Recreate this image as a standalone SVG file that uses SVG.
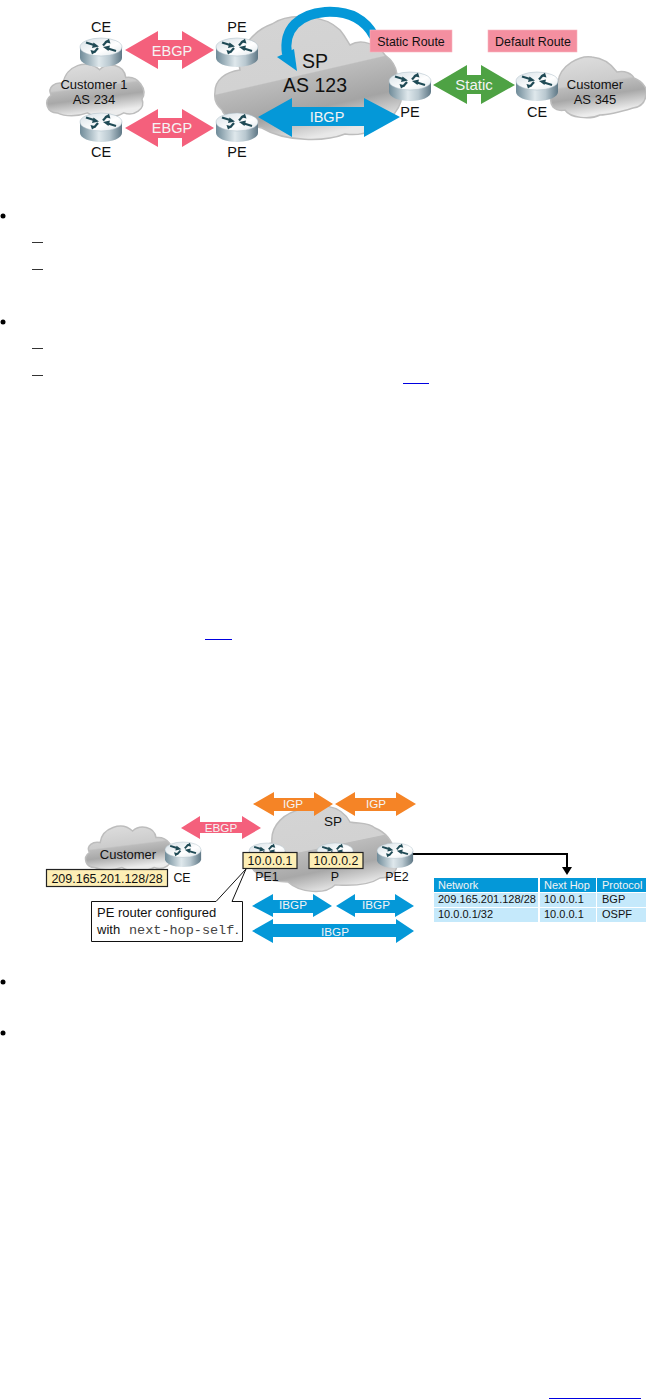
<svg xmlns="http://www.w3.org/2000/svg" xmlns:xlink="http://www.w3.org/1999/xlink" width="646" height="1399" viewBox="0 0 646 1399">
<style>
text{font-family:"Liberation Sans",Arial,sans-serif;fill:#111}
.m{text-anchor:middle}
.w{fill:#f4f4f4}
.c13{font-size:13px}.c14{font-size:14.5px}.c12{font-size:12.4px}.c11{font-size:11.7px}.t{font-size:11px}
.mono{font-family:"Liberation Mono",monospace;fill:#444}
.red{fill:#f4607c}.blue{fill:#0498d8}.green{fill:#4ea244}.orange{fill:#f58426}
.lab{fill:#f48fa0;stroke:#f7b5c0;stroke-width:.6}
.yel{fill:#fdeeb5;stroke:#222;stroke-width:1.2}
.cl{stroke:#bdbdbd;stroke-width:1.5;vector-effect:non-scaling-stroke}
.th{fill:#0498d8}.td{fill:#c5e9fb}
.dash{stroke:#333;stroke-width:1}.ul{stroke:#0000e0;stroke-width:1}
</style>
<defs>
<linearGradient id="cg" x1=".4" y1=".05" x2=".6" y2=".9">
<stop offset="0" stop-color="#dadada"/><stop offset=".42" stop-color="#cccccc"/><stop offset=".46" stop-color="#bbbbbb"/><stop offset=".68" stop-color="#a8a8a8"/><stop offset="1" stop-color="#ececec"/>
</linearGradient>
<linearGradient id="sp1" gradientUnits="userSpaceOnUse" x1="286" y1="15" x2="314" y2="137">
<stop offset="0" stop-color="#d4d4d4"/><stop offset=".49" stop-color="#d2d2d2"/><stop offset=".5" stop-color="#bcbcbc"/><stop offset=".78" stop-color="#a4a4a4"/><stop offset="1" stop-color="#e8e8e8"/>
</linearGradient>
<linearGradient id="sp2" gradientUnits="userSpaceOnUse" x1="321" y1="803" x2="339" y2="890">
<stop offset="0" stop-color="#d4d4d4"/><stop offset=".49" stop-color="#d2d2d2"/><stop offset=".5" stop-color="#bcbcbc"/><stop offset=".75" stop-color="#a8a8a8"/><stop offset="1" stop-color="#ececec"/>
</linearGradient>
<linearGradient id="rs" x1="0" x2="1" y1="0" y2="0">
<stop offset="0" stop-color="#6f8b99"/><stop offset=".45" stop-color="#dfe8ec"/><stop offset=".7" stop-color="#b9c8d0"/><stop offset="1" stop-color="#5f7886"/>
</linearGradient>
<linearGradient id="rt" x1="0" x2="1" y1="0" y2="1">
<stop offset="0" stop-color="#d6e0e6"/><stop offset=".6" stop-color="#ffffff"/><stop offset="1" stop-color="#dfe7eb"/>
</linearGradient>
<path id="cloud" d="M12,56C2,56-2,44 6,38C2,30 10,24 18,26C20,8 42,0 54,12C62,4 78,6 80,20C92,18 102,32 96,42C100,52 88,60 78,56C68,62 50,62 42,56C32,60 20,60 12,56Z" fill="url(#cg)" class="cl"/>
<g id="router">
<path d="M0,9V20C0,25 9.400,29 21,29S42,25 42,20V9Z" fill="url(#rs)"/>
<ellipse cx="21" cy="9" rx="21" ry="9" fill="url(#rt)" stroke="#a9bac4" stroke-width=".5"/>
<g fill="none" stroke="#1f4a55" stroke-width="2.200">
<path d="M6,4.500L14,7"/><path d="M36,13L28,10.500"/><path d="M23,7.500L27,3"/><path d="M18,10L14,14.500"/>
</g>
<g fill="#1f4a55">
<path d="M19,8.500L12,10 13.500,4.500Z"/><path d="M23,9L30,7.500 28.500,13Z"/><path d="M29,.8L30.500,5.500 24.500,4Z"/><path d="M12,16.500L10.500,12 16.500,13.500Z"/>
</g>
</g>
</defs>

<g id="cloud-customer1"><use href="#cloud" transform="translate(45,58) scale(1.01,.98)"/></g>
<g id="cloud-sp"><path class="cl" fill="url(#sp1)" d="M215,92C215,80 225,72 240,70C235,50 255,30 272,24C290,12 325,15 340,30C345,36 348,42 350,45C362,38 378,45 385,55C392,60 396,66 397,74C405,85 405,105 390,118C380,128 365,137 345,134C325,142 285,142 262,128C245,125 225,120 222,110C216,105 214,98 215,92Z"/></g>
<g id="cloud-customer345"><path class="cl" fill="url(#cg)" d="M553,107C548,100 552,90 558,82C560,65 580,55 592,57C604,58 612,65 617,72C625,70 632,74 634,78C644,82 648,90 646,95C645,103 640,107 633,108C620,112 610,115 600,115C590,120 570,118 565,110C560,111 556,110 553,107Z"/></g>
<g id="cloud-customer"><use href="#cloud" transform="translate(84,821) scale(.9,.83)"/></g>
<g id="cloud-sp2"><path class="cl" fill="url(#sp2)" d="M250,860C250,850 262,845 272,843C270,825 285,812 303,809C315,803 340,803 350,822C358,824 368,822 375,828C385,832 392,840 395,852C402,865 395,878 380,878C365,888 340,885 335,885C325,895 300,893 288,882C270,882 250,875 250,860Z"/></g>

<g id="connectors">
<path d="M374,36C362,14 342,11 325,12C300,14 283,28 287,54" fill="none" stroke="#0498d8" stroke-width="10"/>
<polygon class="blue" points="277,57 294,49 297,71"/>
<polygon class="red" points="125,50 158,31 158,40 182,40 182,31 214,50 182,69 182,60 158,60 158,69"/>
<polygon class="red" points="125,128 158,109 158,118 182,118 182,109 214,128 182,147 182,138 158,138 158,147"/>
<polygon class="blue" points="258,117 292,98 292,107 364,107 364,98 400,117 364,137 364,126 292,126 292,137"/>
<polygon class="green" points="433,85 467,65 467,75 481,75 481,65 515,85 481,104 481,94 467,94 467,104"/>
<polygon class="red" points="181,828 200,816 200,822 242,822 242,816 261,828 242,839 242,833 200,833 200,839"/>
<polygon class="orange" points="253,804 274,792 274,798 314,798 314,792 333,804 314,816 314,811 274,811 274,816"/>
<polygon class="orange" points="335,804 355,792 355,798 396,798 396,792 416,804 396,816 396,811 355,811 355,816"/>
<polygon class="blue" points="252,906 273,894 273,900 313,900 313,894 332,906 313,917 313,913 273,913 273,917"/>
<polygon class="blue" points="336,906 355,894 355,900 395,900 395,894 414,906 395,917 395,913 355,913 355,917"/>
<polygon class="blue" points="252,931 273,919 273,924 396,924 396,919 414,931 396,943 396,937 273,937 273,943"/>
<path d="M413,854H567V868" fill="none" stroke="#000" stroke-width="2"/>
<polygon points="562,867 572,867 567,875"/>
<text class="m w c14" x="172" y="56">EBGP</text>
<text class="m w c14" x="172" y="133">EBGP</text>
<text class="m w c14" x="327" y="122">IBGP</text>
<text class="m w" x="474" y="90" style="font-size:15px">Static</text>
<text class="m w c11" x="221" y="832">EBGP</text>
<text class="m w c11" x="293" y="808">IGP</text>
<text class="m w c11" x="376" y="808">IGP</text>
<text class="m w c11" x="293" y="909">IBGP</text>
<text class="m w c11" x="376" y="909">IBGP</text>
<text class="m w c11" x="335" y="936">IBGP</text>
</g>

<g id="router-ce1"><use href="#router" x="80" y="38"/><text class="m c14" x="101" y="32">CE</text></g>
<g id="router-ce2"><use href="#router" x="80" y="113"/><text class="m c14" x="101" y="157">CE</text></g>
<g id="router-pe1"><use href="#router" x="216" y="38"/><text class="m c14" x="237" y="32">PE</text></g>
<g id="router-pe2"><use href="#router" x="216" y="113"/><text class="m c14" x="237" y="157">PE</text></g>
<g id="router-pe3"><use href="#router" x="389" y="72"/><text class="m c14" x="410" y="117">PE</text></g>
<g id="router-ce3"><use href="#router" x="516" y="72"/><text class="m c14" x="537" y="117">CE</text></g>

<g id="labels-top">
<text class="m c13" x="94" y="89">Customer 1</text><text class="m c13" x="94" y="104">AS 234</text>
<text class="m c13" x="595" y="89">Customer</text><text class="m c13" x="595" y="104">AS 345</text>
<text class="m" x="315" y="68" style="font-size:19.500px">SP</text><text class="m" x="315" y="92" style="font-size:19.500px">AS 123</text>
</g>
<g id="label-static"><rect class="lab" x="370" y="30" width="82" height="22"/><text class="m c12" x="411" y="46">Static Route</text></g>
<g id="label-default"><rect class="lab" x="488" y="30" width="89" height="22"/><text class="m c12" x="533" y="46">Default Route</text></g>

<g id="router-ce-b"><use href="#router" transform="translate(165,842) scale(.86)"/><text class="m c12" x="182" y="882">CE</text></g>
<g id="router-pe1-b"><use href="#router" transform="translate(249,843) scale(.86)"/><text class="m c12" x="267" y="881">PE1</text></g>
<g id="router-p-b"><use href="#router" transform="translate(317,843) scale(.86)"/><text class="m c12" x="335" y="881">P</text></g>
<g id="router-pe2-b"><use href="#router" transform="translate(377,843) scale(.86)"/><text class="m c12" x="397" y="881">PE2</text></g>
<g id="addr-customer"><rect class="yel" x="46.500" y="869.500" width="121" height="17"/><text class="m" x="107" y="883" style="font-size:12.500px">209.165.201.128/28</text></g>
<g id="addr-pe1"><rect class="yel" x="243" y="852.500" width="54" height="16"/><text class="m c12" x="270" y="865">10.0.0.1</text></g>
<g id="addr-p"><rect class="yel" x="309" y="852.500" width="54" height="16"/><text class="m c12" x="336" y="865">10.0.0.2</text></g>
<text class="m c13" x="128" y="859">Customer</text>
<text class="m" x="333" y="826" style="font-size:13.500px">SP</text>

<g id="callout">
<path d="M91.500,901.500H216L246,869L232,901.500H242.500V941.500H91.500Z" fill="#fff" stroke="#111" stroke-width="1"/>
<text class="c13" x="97" y="917">PE router configured</text>
<text class="c13" x="97" y="934">with</text>
<text x="129" y="934" class="mono" style="font-size:13.500px">next-hop-self</text>
<text class="c13" x="235" y="934">.</text>
</g>

<g id="route-table">
<rect class="th" x="434" y="878" width="104" height="14"/><rect class="th" x="540" y="878" width="56" height="14"/><rect class="th" x="597" y="878" width="49" height="14"/>
<rect class="td" x="434" y="893" width="104" height="14"/><rect class="td" x="540" y="893" width="56" height="14"/><rect class="td" x="597" y="893" width="49" height="14"/>
<rect class="td" x="434" y="908" width="104" height="14"/><rect class="td" x="540" y="908" width="56" height="14"/><rect class="td" x="597" y="908" width="49" height="14"/>
<g class="t">
<text class="w t" x="438" y="889">Network</text><text class="w t" x="544" y="889">Next Hop</text><text class="w t" x="602" y="889">Protocol</text>
<text class="t" x="438" y="903">209.165.201.128/28</text><text class="t" x="544" y="903">10.0.0.1</text><text class="t" x="602" y="903">BGP</text>
<text class="t" x="438" y="918">10.0.0.1/32</text><text class="t" x="544" y="918">10.0.0.1</text><text class="t" x="602" y="918">OSPF</text>
</g>
</g>

<g id="marks">
<circle cx="3" cy="216" r="2.500"/><circle cx="3" cy="322" r="2.500"/><circle cx="3" cy="982" r="2.500"/><circle cx="3" cy="1033" r="2.500"/>
<path class="dash" d="M32,242.500H43M32,269.500H43M32,348.500H43M32,375.500H43"/>
<path class="ul" d="M403,383.500H429M205,639.500H232M549,1398.500H641"/>
</g>
</svg>
